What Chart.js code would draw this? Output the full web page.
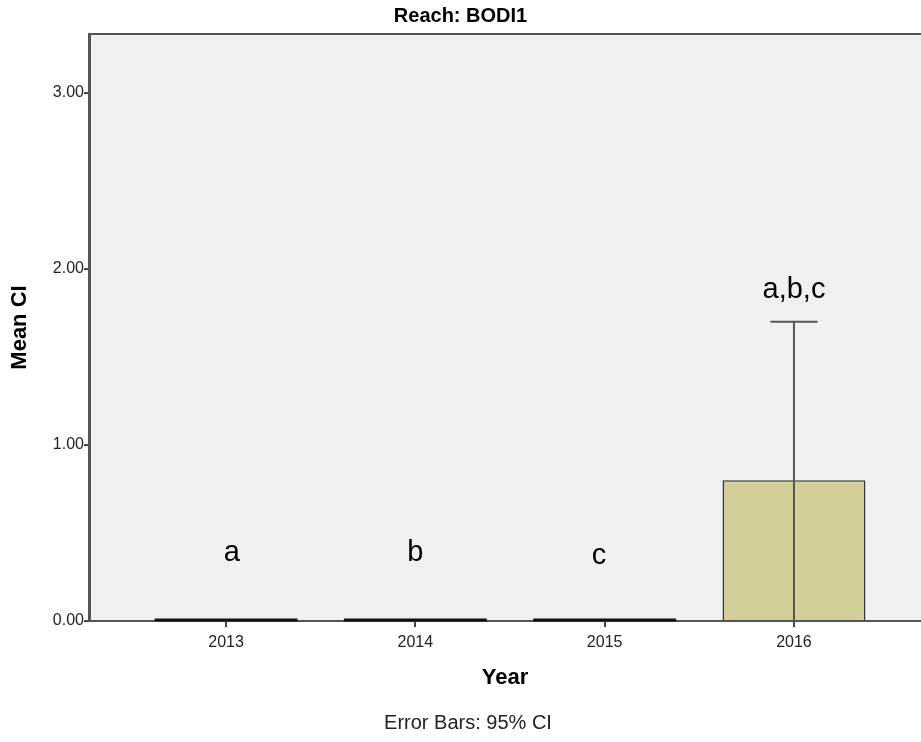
<!DOCTYPE html>
<html>
<head>
<meta charset="utf-8">
<script src="https://cdn.jsdelivr.net/npm/chart.js@4"></script>
<style>
  body { margin: 0; background: #fff; }
  canvas { display: block; }
</style>
</head>
<body>
<canvas id="barChart" width="921" height="742"></canvas>
<script>
const years = [2013, 2014, 2015, 2016];
const meanCI = [0, 0, 0, 0.80];
const ciLow = [null, null, null, -0.10];
const ciHigh = [null, null, null, 1.70];
const yTicks = [0, 1, 2, 3];
const letters = ['a', 'b', 'c', 'a,b,c'];
const letterX = [2013.03, 2014, 2014.97, 2016];
const letterY = [0.386, 0.386, 0.37, 1.88];

const FONT = "'Liberation Sans', Arial, sans-serif";

const plotFrame = {
    id: 'plotFrame',
    beforeDraw(chart) {
        const { ctx, chartArea: { left, top, right, bottom } } = chart;
        ctx.save();
        ctx.fillStyle = '#f0f0f0';
        ctx.fillRect(left, top, right - left, bottom - top);
        ctx.strokeStyle = '#555';
        ctx.lineWidth = 2;
        ctx.beginPath();
        ctx.moveTo(left, top);
        ctx.lineTo(right, top);
        ctx.stroke();
        ctx.restore();
    }
};

const extras = {
    id: 'extras',
    afterDatasetsDraw(chart) {
        const { ctx, scales: { x, y } } = chart;
        const meta = chart.getDatasetMeta(0);
        ctx.save();
        meta.data.forEach((bar, i) => {
            const half = bar.width / 2;
            if (meanCI[i] === 0) {
                ctx.strokeStyle = '#111';
                ctx.lineWidth = 3;
                ctx.beginPath();
                ctx.moveTo(bar.x - half, y.getPixelForValue(0) - 1);
                ctx.lineTo(bar.x + half, y.getPixelForValue(0) - 1);
                ctx.stroke();
            }
            if (ciHigh[i] !== null) {
                const lo = y.getPixelForValue(Math.max(ciLow[i], y.min));
                const hi = y.getPixelForValue(ciHigh[i]);
                const cap = bar.width * 0.165;
                ctx.strokeStyle = '#555';
                ctx.lineWidth = 2;
                ctx.beginPath();
                ctx.moveTo(bar.x, lo);
                ctx.lineTo(bar.x, hi);
                ctx.moveTo(bar.x - cap, hi);
                ctx.lineTo(bar.x + cap, hi);
                ctx.stroke();
            }
        });
        ctx.fillStyle = '#000';
        ctx.font = '29px ' + FONT;
        ctx.textAlign = 'center';
        ctx.textBaseline = 'middle';
        letters.forEach((t, i) => {
            ctx.fillText(t, x.getPixelForValue(letterX[i]), y.getPixelForValue(letterY[i]));
        });
        ctx.restore();
    },
    afterDraw(chart) {
        const { ctx } = chart;
        ctx.save();
        ctx.fillStyle = '#222';
        ctx.font = '20px ' + FONT;
        ctx.textAlign = 'center';
        ctx.textBaseline = 'middle';
        ctx.fillText('Error Bars: 95% CI', 468, 723);
        ctx.restore();
    }
};

new Chart(document.getElementById('barChart'), {
    type: 'bar',
    data: {
        datasets: [{
            label: 'Mean CI',
            data: years.map((yr, i) => ({ x: yr, y: meanCI[i] })),
            backgroundColor: '#d3cf98',
            borderColor: '#333',
            borderWidth: 1.5,
            categoryPercentage: 1,
            barPercentage: 0.755
        }]
    },
    options: {
        responsive: false,
        animation: false,
        layout: { padding: 0 },
        plugins: {
            legend: { display: false },
            tooltip: { enabled: false },
            title: {
                display: true,
                text: 'Reach: BODI1',
                color: '#000',
                font: { family: FONT, size: 20, weight: 'bold' },
                padding: { top: 4, bottom: 6 }
            }
        },
        scales: {
            x: {
                type: 'linear',
                offset: false,
                min: 2012.276,
                max: 2016.671,
                afterBuildTicks: (scale) => { scale.ticks = years.map(v => ({ value: v })); },
                afterFit: (scale) => { scale.height = 121; },
                ticks: {
                    color: '#222',
                    font: { family: FONT, size: 16 },
                    padding: 6,
                    callback: (v) => String(v)
                },
                grid: { offset: false, drawOnChartArea: false, tickLength: 6, color: '#444', lineWidth: 2 },
                border: { color: '#555', width: 2 },
                title: {
                    display: true,
                    text: 'Year',
                    color: '#000',
                    font: { family: FONT, size: 22, weight: 'bold' },
                    padding: { bottom: 51 }
                }
            },
            y: {
                min: 0,
                max: 3.335,
                afterBuildTicks: (scale) => { scale.ticks = yTicks.map(v => ({ value: v })); },
                afterFit: (scale) => { scale.width = 89; },
                ticks: {
                    color: '#222',
                    font: { family: FONT, size: 16 },
                    padding: 0,
                    callback: (v) => Number(v).toFixed(2)
                },
                grid: { drawOnChartArea: false, tickLength: 5, color: '#444', lineWidth: 2 },
                border: { color: '#555', width: 3 },
                title: {
                    display: true,
                    text: 'Mean CI',
                    color: '#000',
                    font: { family: FONT, size: 22, weight: 'bold' },
                    padding: { top: 7 }
                }
            }
        }
    },
    plugins: [plotFrame, extras]
});
</script>
</body>
</html>
